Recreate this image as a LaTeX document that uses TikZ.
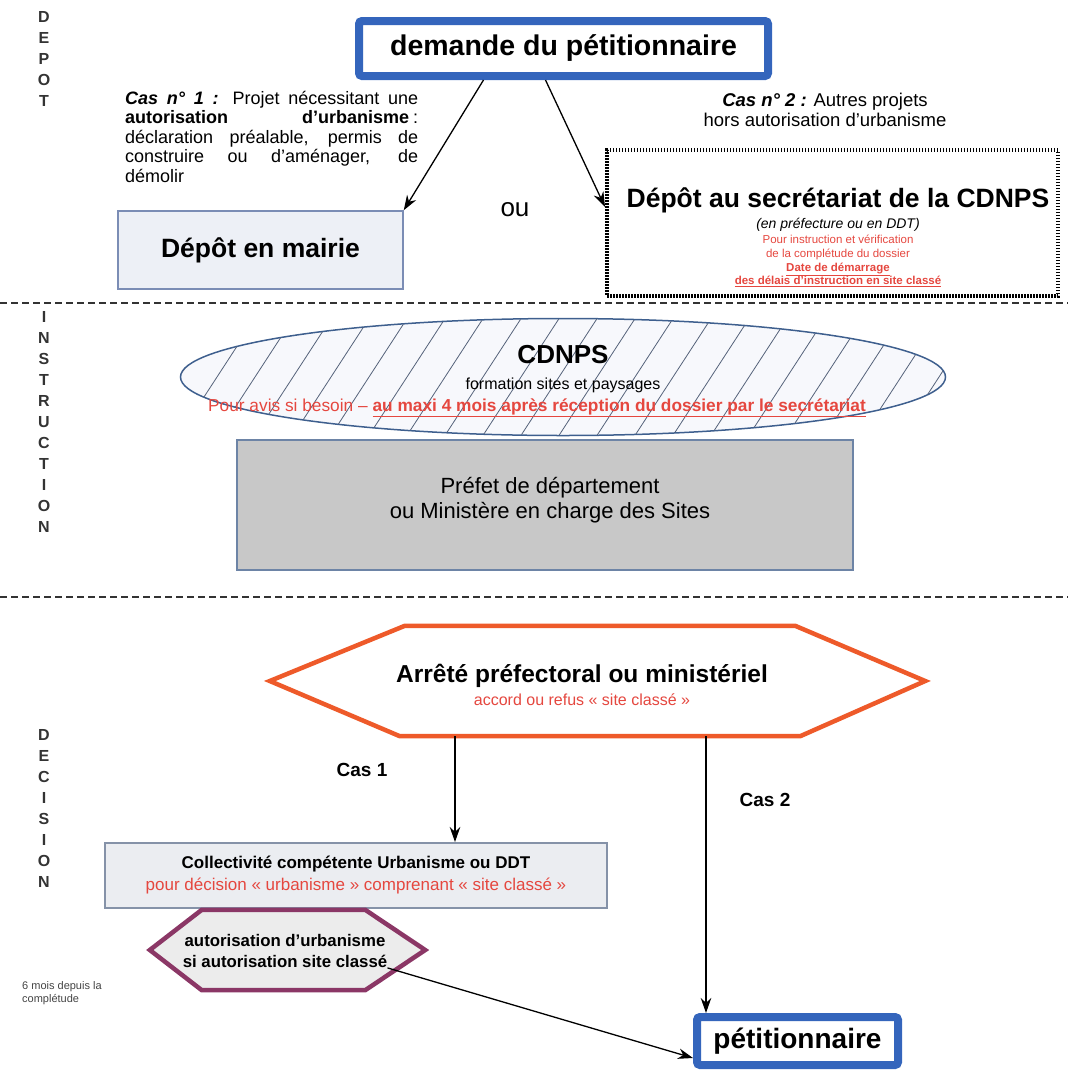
\documentclass[tikz,border=0pt]{standalone}
\usepackage{fontspec}
\setmainfont{Liberation Sans}
\usepackage{xcolor}
\usetikzlibrary{arrows.meta,positioning,calc,shapes.geometric}

\definecolor{boxblue}{HTML}{3465BC}
\definecolor{mairiefill}{HTML}{EDF0F6}
\definecolor{mairiedraw}{HTML}{7B8DB5}
\definecolor{prefetfill}{HTML}{C8C8C8}
\definecolor{prefetdraw}{HTML}{6D84A6}
\definecolor{ellipsedraw}{HTML}{3E5F8E}
\definecolor{ellipsefill}{HTML}{F7F8FC}
\definecolor{hatchcol}{HTML}{55627A}
\definecolor{redtext}{HTML}{E5473F}
\definecolor{arretedraw}{HTML}{EE5A2A}
\definecolor{purpledraw}{HTML}{8B3766}
\definecolor{purplefill}{HTML}{ECECEC}
\definecolor{collfill}{HTML}{EBEDF1}
\definecolor{colldraw}{HTML}{8592A8}
\definecolor{sepcol}{HTML}{333333}
\definecolor{notecol}{HTML}{444444}

\newcommand{\fsz}[2]{\fontsize{#1}{#2}\selectfont}

\begin{document}
\begin{tikzpicture}[x=1pt, y=-1pt, >={Stealth[length=15pt,width=10.5pt]},
  flow/.style={->, line width=1.3pt},
  bluebox/.style={draw=boxblue, line width=8pt, fill=white, rounded corners=3pt, inner sep=0pt},
  sepline/.style={draw=sepcol, line width=2.5pt, dash pattern=on 7pt off 4pt},
  vletters/.style={font=\fsz{16}{21}\bfseries, align=center, text=sepcol, inner sep=0pt}]

  \useasboundingbox (0,0) rectangle (1068,1072);

  % Define nodes

  \node[vletters] (depot) at (44,59) {D\\E\\P\\O\\T};
  \node[vletters] (instruction) at (44,422) {I\\N\\S\\T\\R\\U\\C\\T\\I\\O\\N};
  \node[vletters] (decision) at (44,808) {D\\E\\C\\I\\S\\I\\O\\N};

  \node[bluebox, minimum width=409pt, minimum height=55pt, font=\fsz{28.5}{32}\bfseries] (demande) at (563.5,48.5) {demande du pétitionnaire};

  \node[anchor=north west, text width=293pt, align=justify, font=\fsz{18}{19.5}, inner sep=0pt] (cas1) at (125,91) {\textbf{\textit{Cas n° 1 :}} Projet nécessitant une\linebreak \textbf{autorisation d’urbanisme}\hspace*{4pt}:\linebreak déclaration préalable, permis de\linebreak construire ou d’aménager, de\linebreak démolir};
  \node[font=\fsz{18.5}{20}, align=center] (cas2) at (825,110) {\textbf{\textit{Cas n° 2 :}} Autres projets\\hors autorisation d’urbanisme};

  \node[font=\fsz{26}{30}] (ou) at (515,210) {ou};

  \node[draw=mairiedraw, fill=mairiefill, line width=1.5pt, minimum width=285pt, minimum height=78pt, font=\fsz{26.5}{30}\bfseries] (mairie) at (260.5,250) {Dépôt en mairie};

  \node[draw=black, line width=4pt, dash pattern=on 1.5pt off 1.5pt, minimum width=451pt, minimum height=146pt] (secretariat) at (832.5,223) {};
  \node[font=\fsz{26.5}{30}\bfseries] (secrtitle) at (838,200) {Dépôt au secrétariat de la CDNPS};
  \node[font=\fsz{14}{16}\itshape] (secrsub) at (838,225) {(en préfecture ou en DDT)};
  \node[font=\fsz{11.5}{13.8}, text=redtext, align=center] (secrnote) at (838,261) {Pour instruction et vérification\\de la complétude du dossier\\\textbf{\underline{Date de démarrage}}\\\textbf{\underline{des délais d’instruction en site classé}}};

  \draw[sepline] (0,303) -- (1068,303);

  \node[ellipse, draw=ellipsedraw, fill=ellipsefill, line width=1.5pt, minimum width=765pt, minimum height=117pt] (cdnps) at (563,377) {};
  \begin{scope}
    \clip (563,377) ellipse [x radius=382pt, y radius=58pt];
    \foreach \i in {0,...,24}
      \draw[hatchcol, line width=0.8pt] (100+\i*38,440) -- ++(82,-126);
  \end{scope}
  \node[font=\fsz{26}{30}\bfseries] (cdnpstitle) at (563,355) {CDNPS};
  \node[font=\fsz{16}{18}] (cdnpssub) at (563,385) {formation sites et paysages};
  \node[font=\fsz{17.3}{19}, text=redtext] (cdnpsnote) at (537,408) {Pour avis si besoin – \textbf{\underline{au maxi 4 mois après réception du dossier par le secrétariat}}};

  \node[draw=prefetdraw, fill=prefetfill, line width=1.5pt, minimum width=616pt, minimum height=130pt, align=center, font=\fsz{22}{25}] (prefet) at (545,505) {};
  \node[align=center, font=\fsz{22}{25}] (prefettext) at (550,500) {Préfet de département\\ou Ministère en charge des Sites};

  \draw[sepline] (0,597) -- (1068,597);

  \node[minimum width=655pt, minimum height=110pt, inner sep=0pt] (arrete) at (597.5,681) {};
  \draw[draw=arretedraw, fill=white, line width=4.5pt] (arrete.west) -- ([xshift=135pt]arrete.north west) -- ([xshift=-130pt]arrete.north east) -- (arrete.east) -- ([xshift=-125pt]arrete.south east) -- ([xshift=130pt]arrete.south west) -- cycle;
  \node[font=\fsz{24.5}{28}\bfseries] (arretetitle) at (582,676) {Arrêté préfectoral ou ministériel};
  \node[font=\fsz{16}{18}, text=redtext] (arretesub) at (582,700) {accord ou refus « site classé »};

  \node[font=\fsz{19}{22}\bfseries] (cas1lbl) at (362,770) {Cas 1};
  \node[font=\fsz{19}{22}\bfseries] (cas2lbl) at (765,800) {Cas 2};

  \node[draw=colldraw, fill=collfill, line width=2pt, minimum width=502pt, minimum height=65pt, align=center, font=\fsz{17}{22}] (collectivite) at (356,875.5) {\textbf{Collectivité compétente Urbanisme ou DDT}\\\textcolor{redtext}{pour décision « urbanisme » comprenant « site classé »}};

  \node[minimum width=275pt, minimum height=80pt, inner sep=0pt] (autorisation) at (287.5,950) {};
  \draw[draw=purpledraw, fill=purplefill, line width=4.5pt] (autorisation.west) -- ([xshift=52pt]autorisation.north west) -- ([xshift=-60pt]autorisation.north east) -- (autorisation.east) -- ([xshift=-60pt]autorisation.south east) -- ([xshift=52pt]autorisation.south west) -- cycle;
  \node[font=\fsz{16.8}{21}\bfseries, align=center, inner sep=0pt] (autotext) at (285,951) {autorisation d’urbanisme\\si autorisation site classé};

  \node[anchor=north west, align=left, font=\fsz{11}{13.5}, text=notecol, inner sep=0pt] (delai) at (22,981) {6 mois depuis la\\complétude};

  \node[bluebox, minimum width=201pt, minimum height=48pt, font=\fsz{28}{32}\bfseries] (petitionnaire) at (797.5,1041) {pétitionnaire};

  % Draw arrows
  \draw[flow] ([xshift=-80pt]demande.south) -- (mairie.north east);
  \draw[flow] ([xshift=-18pt]demande.south) -- ([yshift=16pt]secretariat.west);
  \draw[flow] ([xshift=-142.5pt]arrete.south) -- ([xshift=99pt]collectivite.north);
  \draw[flow] ([xshift=108.5pt]arrete.south) -- ([xshift=-91.5pt]petitionnaire.north);
  \draw[flow] (autotext.south east) -- ([yshift=-17pt]petitionnaire.west);
\end{tikzpicture}
\end{document}
